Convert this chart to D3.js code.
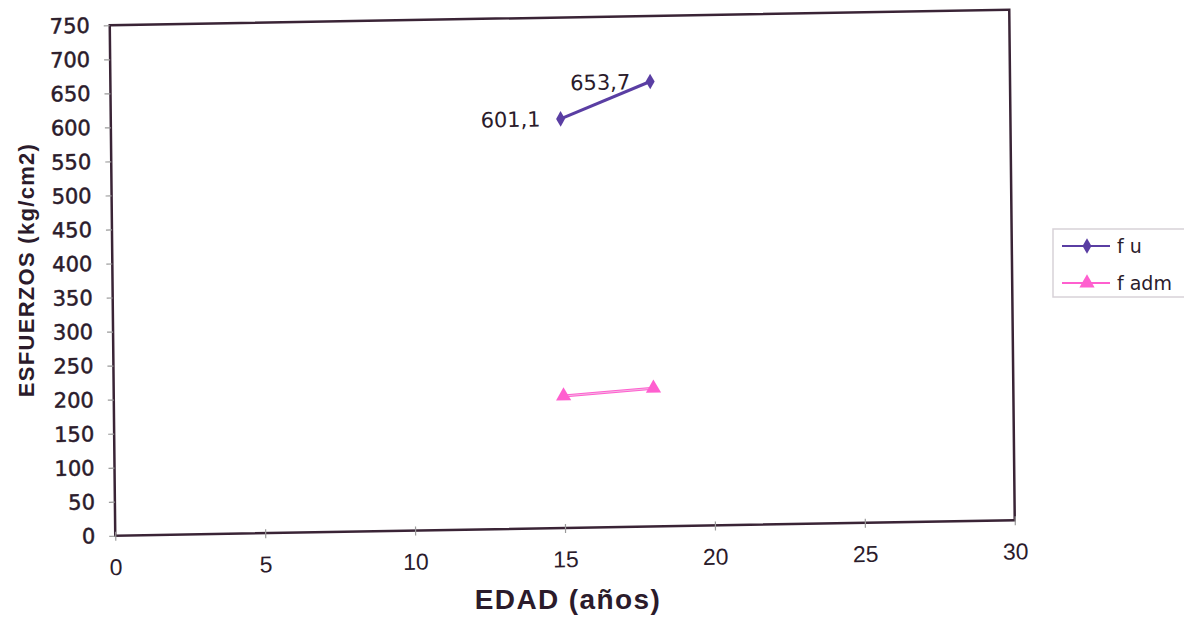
<!DOCTYPE html>
<html>
<head>
<meta charset="utf-8">
<script src="https://cdn.jsdelivr.net/npm/d3@7"></script>
<style>
  html, body { margin: 0; padding: 0; background: #ffffff; }
  svg { display: block; }
</style>
</head>
<body>
<svg id="chart" width="1184" height="617"></svg>
<script>
// ---- data ----
const seriesNames = ["f u", "f adm"];
const edad = [15, 18];
const fu = [601.1, 653.7];
const fadm = [194, 203];
const fuLabels = ["601,1", "653,7"];
const xTicks = [0, 5, 10, 15, 20, 25, 30];
const yTicks = [0, 50, 100, 150, 200, 250, 300, 350, 400, 450, 500, 550, 600, 650, 700, 750];
const xTitle = "EDAD (años)";
const yTitle = "ESFUERZOS (kg/cm2)";

// ---- layout ----
const W = 1184, H = 617;
const plot = { left: 112, top: 18, right: 1012, bottom: 529 };
const ink = "#2b1b2b";
const colFu = "#5a3ea3";
const colAdm = "#ff5fcf";

const svg = d3.select("#chart");
svg.append("rect").attr("width", W).attr("height", H).attr("fill", "#fff");

const x = d3.scaleLinear().domain([0, 30]).range([plot.left, plot.right]);
const y = d3.scaleLinear().domain([0, 750]).range([plot.bottom, plot.top]);

// slight tilt of the scanned page
const g = svg.append("g").attr("transform", "matrix(0.99944,-0.01722,0.01076,0.99902,-2.378,9.196)");

// plot border
g.append("rect")
  .attr("x", plot.left).attr("y", plot.top)
  .attr("width", plot.right - plot.left).attr("height", plot.bottom - plot.top)
  .attr("fill", "none").attr("stroke", "#3a2436").attr("stroke-width", 2.5);

// y axis
const yAxis = d3.axisLeft(y).tickValues(yTicks).tickSize(6).tickPadding(14);
const ya = g.append("g").attr("transform", `translate(${plot.left},0)`).call(yAxis);
ya.select(".domain").remove();
ya.selectAll(".tick line").attr("stroke", "#9a9a9a").attr("stroke-width", 1.2);
ya.selectAll(".tick text")
  .attr("fill", ink).attr("stroke", ink).attr("stroke-width", 0.5)
  .attr("font-family", "DejaVu Sans, sans-serif")
  .attr("font-size", 21);

// x axis
const xAxis = d3.axisBottom(x).tickValues(xTicks).tickSize(5).tickPadding(18);
const xa = g.append("g").attr("transform", `translate(0,${plot.bottom})`).call(xAxis);
xa.select(".domain").remove();
xa.selectAll(".tick line").attr("stroke", "#9a9a9a").attr("stroke-width", 1.2).attr("y1", -4);
xa.selectAll(".tick text")
  .attr("fill", ink).attr("font-family", "Liberation Sans Narrow, Liberation Sans, sans-serif")
  .attr("font-size", 23);

// series
const line = d3.line().x(d => x(d[0])).y(d => y(d[1]));
const fuPts = edad.map((e, i) => [e, fu[i]]);
const admPts = edad.map((e, i) => [e, fadm[i]]);

g.append("path").datum(admPts).attr("d", line)
  .attr("fill", "none").attr("stroke", colAdm).attr("stroke-width", 3);
g.append("path").datum(admPts).attr("d", line)
  .attr("fill", "none").attr("stroke", "#f3b8e4").attr("stroke-width", 1);
g.append("path").datum(fuPts).attr("d", line)
  .attr("fill", "none").attr("stroke", colFu).attr("stroke-width", 3);

const diamond = d3.symbol().type(d3.symbolDiamond).size(70);
const tri = d3.symbol().type(d3.symbolTriangle).size(100);

g.selectAll(".mfu").data(fuPts).enter().append("path")
  .attr("transform", d => `translate(${x(d[0])},${y(d[1])})`)
  .attr("d", diamond).attr("fill", colFu);
g.selectAll(".madm").data(admPts).enter().append("path")
  .attr("transform", d => `translate(${x(d[0])},${y(d[1])})`)
  .attr("d", tri).attr("fill", colAdm);

// data labels
g.selectAll(".lbl").data(fuPts).enter().append("text")
  .attr("x", d => x(d[0]) - 20).attr("y", d => y(d[1]))
  .attr("dy", "0.35em").attr("text-anchor", "end")
  .attr("font-family", "DejaVu Sans, sans-serif").attr("font-size", 21)
  .attr("fill", ink)
  .text((d, i) => fuLabels[i]);

// axis titles
svg.append("text")
  .attr("transform", `translate(34,270) rotate(-90)`)
  .attr("text-anchor", "middle")
  .attr("font-family", "Liberation Sans, Arial, sans-serif")
  .attr("font-weight", "bold").attr("font-size", 22)
  .attr("letter-spacing", 1.3)
  .attr("fill", ink).text(yTitle);

svg.append("text")
  .attr("x", 568).attr("y", 609)
  .attr("text-anchor", "middle")
  .attr("font-family", "Liberation Sans, Arial, sans-serif")
  .attr("font-weight", "bold").attr("font-size", 28)
  .attr("letter-spacing", 1.4)
  .attr("fill", ink).text(xTitle);

// legend
const lg = svg.append("g");
lg.append("rect").attr("x", 1053).attr("y", 229).attr("width", 160).attr("height", 68)
  .attr("fill", "#fff").attr("stroke", "#d8d2d8").attr("stroke-width", 1.5);
const legendItems = [
  { name: seriesNames[0], color: colFu, sym: diamond, y: 246 },
  { name: seriesNames[1], color: colAdm, sym: tri, y: 283 }
];
legendItems.forEach(it => {
  lg.append("line").attr("x1", 1062).attr("x2", 1110).attr("y1", it.y).attr("y2", it.y)
    .attr("stroke", it.color).attr("stroke-width", 2);
  lg.append("path").attr("transform", `translate(1087,${it.y})`).attr("d", it.sym).attr("fill", it.color);
  lg.append("text").attr("x", 1117).attr("y", it.y).attr("dy", "0.35em")
    .attr("font-family", "DejaVu Sans, sans-serif").attr("font-size", 19)
    .attr("fill", ink).text(it.name);
});
</script>
</body>
</html>
